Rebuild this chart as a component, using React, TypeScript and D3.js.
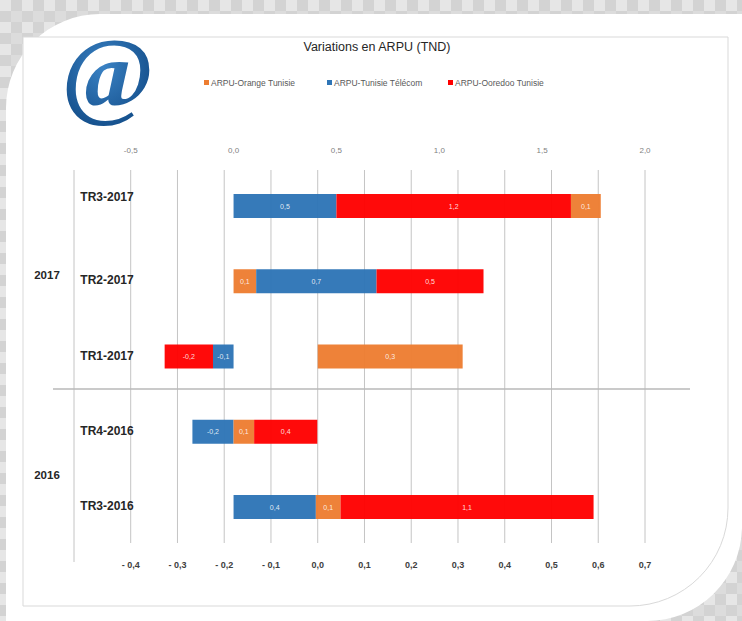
import React from "react";
import * as d3 from "d3";

const categories = ["TR3-2017", "TR2-2017", "TR1-2017", "TR4-2016", "TR3-2016"];
const years = ["2017", "2016"];
const yearGroups = [["TR3-2017", "TR2-2017", "TR1-2017"], ["TR4-2016", "TR3-2016"]];

const seriesNames = ["ARPU-Orange Tunisie", "ARPU-Tunisie Télécom", "ARPU-Ooredoo Tunisie"];
const seriesKeys = ["orange", "telecom", "ooredoo"];
const seriesColors = ["#ED7D31", "#2E75B6", "#FF0000"];

const orangeValues = [0.145, 0.11, 0.31, 0.10, 0.12];
const telecomValues = [0.5, 0.585, -0.1, -0.2, 0.4];
const ooredooValues = [1.14, 0.52, -0.235, 0.307, 1.23];

const orangeLabels = ["0,1", "0,1", "0,3", "0,1", "0,1"];
const telecomLabels = ["0,5", "0,7", "-0,1", "-0,2", "0,4"];
const ooredooLabels = ["1,2", "0,5", "-0,2", "0,4", "1,1"];

// stacking order per category
const stackOrders = [
  ["telecom", "ooredoo", "orange"],
  ["orange", "telecom", "ooredoo"],
  ["telecom", "ooredoo", "orange"],
  ["telecom", "orange", "ooredoo"],
  ["telecom", "orange", "ooredoo"],
];
// cells plotted on the secondary (bottom) axis
const secondaryCells = [["TR1-2017", "orange"]];

const topTicks = [-0.5, 0, 0.5, 1, 1.5, 2];
const bottomTicks = [-0.4, -0.3, -0.2, -0.1, 0, 0.1, 0.2, 0.3, 0.4, 0.5, 0.6, 0.7];

const W = 742;
const H = 621;
const font = "'Liberation Sans',Arial,sans-serif";
const fmt = (v: number) => d3.format(".1f")(v).replace(".", ",").replace("−", "-");

export default function App() {
  const xTop = d3.scaleLinear().domain([-0.5, 2.0]).range([130.7, 645]);
  const xBot = d3.scaleLinear().domain([-0.4, 0.7]).range([130.7, 645]);
  const y = d3.scalePoint<string>().domain(categories).range([206, 507]);
  const barH = 24;
  const gridTop = 170;
  const gridBottom = 543;

  const valuesByKey: Record<string, number[]> = {
    orange: orangeValues,
    telecom: telecomValues,
    ooredoo: ooredooValues,
  };
  const labelsByKey: Record<string, string[]> = {
    orange: orangeLabels,
    telecom: telecomLabels,
    ooredoo: ooredooLabels,
  };

  const segments: { x0: number; x1: number; y: number; color: string; label: string; key: string }[] = [];
  categories.forEach((cat, i) => {
    let pos = 0;
    let neg = 0;
    let pos2 = 0;
    let neg2 = 0;
    stackOrders[i].forEach((key) => {
      const v = valuesByKey[key][i];
      const secondary = secondaryCells.some(([c, k]) => c === cat && k === key);
      const sc = secondary ? xBot : xTop;
      let a: number, b: number;
      if (secondary) {
        if (v >= 0) { a = pos2; b = pos2 + v; pos2 = b; } else { a = neg2; b = neg2 + v; neg2 = b; }
      } else {
        if (v >= 0) { a = pos; b = pos + v; pos = b; } else { a = neg; b = neg + v; neg = b; }
      }
      const x0 = Math.min(sc(a), sc(b));
      const x1 = Math.max(sc(a), sc(b));
      segments.push({
        x0, x1, y: y(cat)!, color: seriesColors[seriesKeys.indexOf(key)],
        label: labelsByKey[key][i], key: cat + key,
      });
    });
  });

  const legendX = [204, 327, 448];

  return (
    <svg width={W} height={H} style={{ position: "absolute", left: 0, top: 0, display: "block" }}
      xmlns="http://www.w3.org/2000/svg">
      <defs>
        <pattern id="checker" width="22" height="22" patternUnits="userSpaceOnUse">
          <rect width="22" height="22" fill="#d3d3d3" />
          <rect width="11" height="11" fill="#e6e6e6" />
          <rect x="11" y="11" width="11" height="11" fill="#dcdcdc" />
        </pattern>
        <radialGradient id="atGrad" cx="45%" cy="45%" r="60%">
          <stop offset="0%" stopColor="#3a82c4" />
          <stop offset="100%" stopColor="#124c88" />
        </radialGradient>
      </defs>
      <rect width={W} height={H} fill="url(#checker)" />
      <path d={`M100,14 H${W} V528 A95,95 0 0 1 647,${H} H6 V108 A94,94 0 0 1 100,14 Z`} fill="#ffffff" />
      <path d="M23,37 H728 V508 A98,98 0 0 1 630,606 H23 Z" fill="#ffffff" stroke="#d9d9d9" strokeWidth={1} />

      {/* logo */}
      <text x={108} y={106} textAnchor="middle" fontFamily="'Liberation Serif','DejaVu Serif',serif"
        fontWeight="bold" fontSize={100} fill="url(#atGrad)">@</text>

      {/* title */}
      <text x={377} y={51} textAnchor="middle" fontFamily={font} fontSize={12.5} fill="#262626">
        Variations  en ARPU (TND)
      </text>

      {/* legend */}
      {seriesNames.map((n, i) => (
        <g key={n}>
          <rect x={legendX[i]} y={80} width={5} height={5} fill={seriesColors[i]} />
          <text x={legendX[i] + 7} y={85.5} fontFamily={font} fontSize={8.5} fill="#595959">{n}</text>
        </g>
      ))}

      {/* gridlines */}
      {bottomTicks.map((t) => (
        <line key={"g" + t} x1={xBot(t)} x2={xBot(t)} y1={gridTop} y2={gridBottom} stroke="#c4c4c4" strokeWidth={1} />
      ))}
      <line x1={74} x2={74} y1={gridTop} y2={562} stroke="#c4c4c4" strokeWidth={1} />

      {/* top axis labels */}
      {topTicks.map((t) => (
        <text key={"t" + t} x={xTop(t)} y={153} textAnchor="middle" fontFamily={font} fontSize={8} fill="#7f7f7f">
          {fmt(t)}
        </text>
      ))}

      {/* bottom axis labels */}
      {bottomTicks.map((t) => (
        <text key={"b" + t} x={xBot(t)} y={568} textAnchor="middle" fontFamily={font} fontSize={9} fontWeight="bold" fill="#404040">
          {t < 0 ? "- " + fmt(-t) : fmt(t)}
        </text>
      ))}

      {/* bars */}
      {segments.map((s) => (
        <g key={s.key}>
          <rect x={s.x0} y={s.y - barH / 2} width={s.x1 - s.x0} height={barH} fill={s.color} fillOpacity={0.96} />
          <text x={(s.x0 + s.x1) / 2} y={s.y + 2.5} textAnchor="middle" fontFamily={font} fontSize={7} fill="#ffffff" fillOpacity={0.85}>
            {s.label}
          </text>
        </g>
      ))}

      {/* separator between years */}
      <line x1={53} x2={690} y1={389} y2={389} stroke="#b8b8b8" strokeWidth={1.6} />

      {/* category labels */}
      {categories.map((c, i) => (
        <text key={c} x={107} y={y(c)! + (i === 0 ? -5 : 3)} textAnchor="middle" fontFamily={font} fontWeight="bold" fontSize={12} fill="#262626">
          {c}
        </text>
      ))}
      {years.map((yr, i) => {
        const grp = yearGroups[i];
        const cy = (y(grp[0])! + y(grp[grp.length - 1])!) / 2;
        return (
          <text key={yr} x={47} y={cy + (i === 0 ? -2 : 10)} textAnchor="middle" fontFamily={font} fontWeight="bold" fontSize={11.5} fill="#262626">
            {yr}
          </text>
        );
      })}
    </svg>
  );
}
